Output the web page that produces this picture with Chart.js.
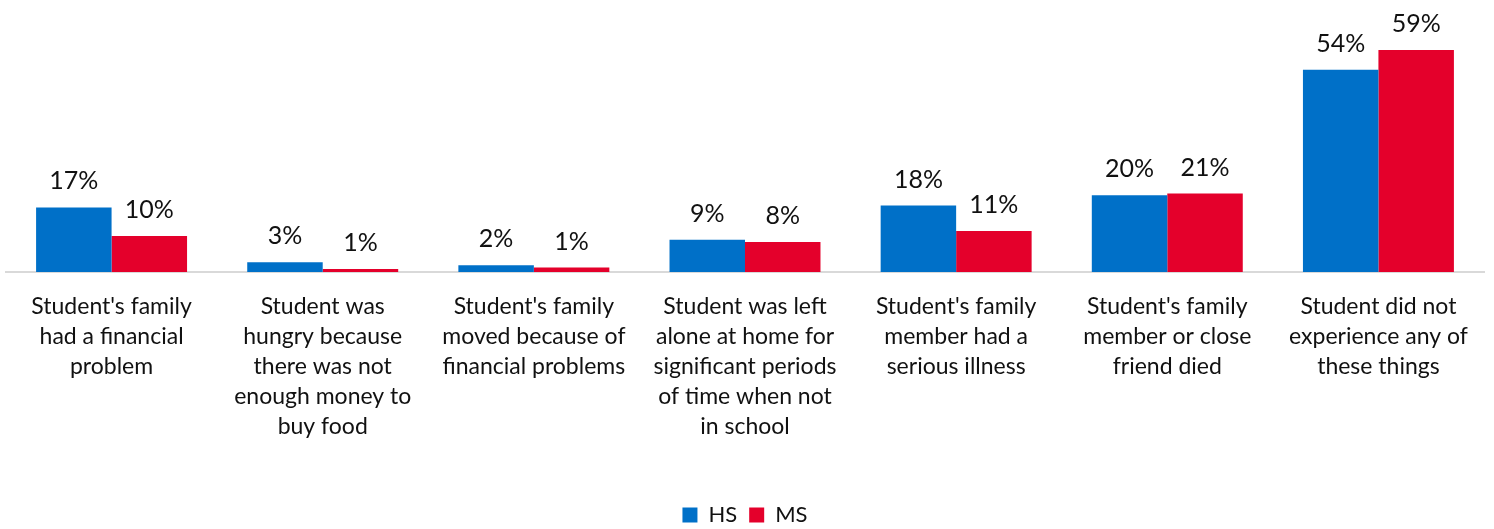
<!DOCTYPE html>
<html>
<head>
<meta charset="utf-8">
<script src="https://cdn.jsdelivr.net/npm/chart.js@4.4.1/dist/chart.umd.min.js"></script>
<style>
  html, body { margin: 0; padding: 0; background: #fff; }
  #wrap { width: 1494px; height: 529px; position: relative; }
</style>
</head>
<body>
<div id="wrap"><canvas id="chart"></canvas></div>
<script>
// data
const categories = [
  ["Student's family", "had a financial", "problem"],
  ["Student was", "hungry because", "there was not", "enough money to", "buy food"],
  ["Student's family", "moved because of", "financial problems"],
  ["Student was left", "alone at home for", "significant periods", "of time when not", "in school"],
  ["Student's family", "member had a", "serious illness"],
  ["Student's family", "member or close", "friend died"],
  ["Student did not", "experience any of", "these things"]
];
const hsValues = [17.2, 2.6, 1.8, 8.6, 17.7, 20.4, 53.8];
const msValues = [9.6, 0.8, 1.2, 8.0, 10.9, 20.9, 59.1];
const seriesNames = ["HS", "MS"];

const FONT = "Lato, 'Open Sans', sans-serif";

// etiket nilai di atas batang
const valueLabels = {
  id: "valueLabels",
  afterDatasetsDraw(chart) {
    const ctx = chart.ctx;
    ctx.save();
    ctx.font = "25px " + FONT;
    ctx.fillStyle = "#111";
    ctx.textAlign = "center";
    ctx.textBaseline = "middle";
    chart.data.datasets.forEach((ds, i) => {
      chart.getDatasetMeta(i).data.forEach((bar, j) => {
        ctx.fillText(Math.round(ds.data[j]) + "%", bar.x, bar.y - 26);
      });
    });
    ctx.restore();
  }
};

const ctx = document.getElementById("chart").getContext("2d");
new Chart(ctx, {
  type: "bar",
  data: {
    labels: categories,
    datasets: [
      {
        label: seriesNames[0],
        data: hsValues,
        backgroundColor: "#0070C8",
        categoryPercentage: 0.715,
        barPercentage: 1.0
      },
      {
        label: seriesNames[1],
        data: msValues,
        backgroundColor: "#E4002B",
        categoryPercentage: 0.715,
        barPercentage: 1.0
      }
    ]
  },
  options: {
    responsive: true,
    maintainAspectRatio: false,
    animation: false,
    layout: { padding: { top: 9, left: 6, right: 10, bottom: -7 } },
    scales: {
      y: {
        display: false,
        min: 0,
        max: 70
      },
      x: {
        grid: { display: false, drawTicks: false },
        border: { display: true, color: "#D9D9D9", width: 2 },
        ticks: {
          color: "#111",
          font: { family: FONT, size: 23, lineHeight: "30px" },
          padding: 20,
          maxRotation: 0,
          autoSkip: false
        },
        afterFit(scale) { scale.height = 220; }
      }
    },
    plugins: {
      legend: {
        display: true,
        position: "bottom",
        labels: {
          color: "#111",
          boxWidth: 15,
          boxHeight: 15,
          padding: 12,
          font: { family: FONT, size: 22 }
        }
      },
      tooltip: { enabled: false }
    }
  },
  plugins: [valueLabels]
});
</script>
</body>
</html>
